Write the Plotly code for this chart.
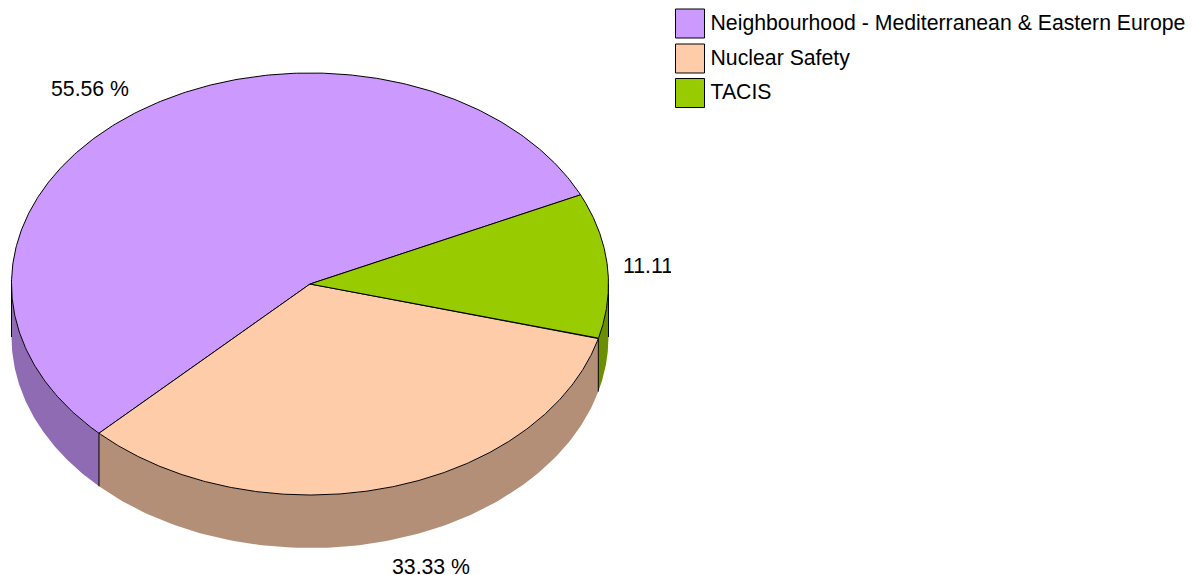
import numpy as np
import plotly.graph_objects as go

# Data
categories = ["Neighbourhood - Mediterranean & Eastern Europe", "Nuclear Safety", "TACIS"]
values = [55.56, 33.33, 11.11]
value_labels = ["55.56 %", "33.33 %", "11.11 %"]
colors = ["#CC99FF", "#FFCCAA", "#99CC00"]
wall_colors = ["#8F6BB3", "#B38F77", "#6B8F00"]

# Layout constants (pixels)
W, H = 1192, 575
CLIP_X = 671
CX, CY, RX, RY, DEPTH = 310, 284, 298.5, 211, 53
START_ANGLE = 25
LABEL_X = [51, 392, 623]
LABEL_Y = [90.5, 568.5, 267.5]
LEG_BOX_X = 690 - CLIP_X
LEG_TEXT_X = 710.5 - CLIP_X
LEG_Y = [23.5, 58.5, 93]
LEG_TEXT_Y = [24.5, 59.5, 93.5]
FONT = "Liberation Sans, Arial, sans-serif"
FS = 21.25


def ell(a, dy=0.0):
    r = np.radians(a)
    return CX + RX * np.cos(r), CY - RY * np.sin(r) + dy


total = sum(values)
edges = [START_ANGLE]
for v in values:
    edges.append(edges[-1] + v / total * 360)

fig = go.Figure()

# Side walls: only the front half (180..360 deg, modulo 360) is visible
vertical_at = set()
for i in range(len(values)):
    a0, a1 = edges[i], edges[i + 1]
    for lo, hi in ((180, 360), (540, 720)):
        s, e = max(a0, lo), min(a1, hi)
        if e > s:
            t = np.linspace(s, e, 120)
            x1, y1 = ell(t)
            x2, y2 = ell(t[::-1], DEPTH)
            fig.add_trace(go.Scatter(
                x=np.r_[x1, x2], y=np.r_[y1, y2], fill="toself", mode="lines",
                fillcolor=wall_colors[i], line=dict(width=0), hoverinfo="skip",
                showlegend=False))
            vertical_at.update([s, e])

for a in sorted(vertical_at):
    x, y = ell(a)
    _, yb = ell(a, DEPTH)
    fig.add_trace(go.Scatter(
        x=[x, x], y=[y, yb], mode="lines", line=dict(color="black", width=1),
        hoverinfo="skip", showlegend=False))

# Top disc
for i, name in enumerate(categories):
    t = np.linspace(edges[i], edges[i + 1], 300)
    x, y = ell(t)
    fig.add_trace(go.Scatter(
        x=np.r_[CX, x, CX], y=np.r_[CY, y, CY], fill="toself", mode="lines",
        fillcolor=colors[i], line=dict(color="black", width=1),
        name=name, hoverinfo="name", showlegend=False))

# Value labels (clipped by the plot area, as in the reference)
fig.add_trace(go.Scatter(
    x=LABEL_X, y=LABEL_Y, text=value_labels, mode="text", textposition="middle right",
    textfont=dict(family=FONT, size=FS, color="black"), cliponaxis=True,
    hoverinfo="skip", showlegend=False))

# Legend
fig.add_trace(go.Scatter(
    x=[LEG_BOX_X] * 3, y=LEG_Y, mode="markers",
    marker=dict(symbol="square", size=29, color=colors, line=dict(color="black", width=1)),
    xaxis="x2", yaxis="y", cliponaxis=False, hoverinfo="skip", showlegend=False))
fig.add_trace(go.Scatter(
    x=[LEG_TEXT_X] * 3, y=LEG_TEXT_Y, mode="text", text=categories,
    textposition="middle right",
    textfont=dict(family=FONT, size=FS, color="black"),
    xaxis="x2", yaxis="y", cliponaxis=False, hoverinfo="skip", showlegend=False))

axis_off = dict(visible=False, showgrid=False, zeroline=False, fixedrange=True)
fig.update_layout(
    width=W, height=H, margin=dict(l=0, r=0, t=0, b=0, pad=0),
    paper_bgcolor="white", plot_bgcolor="rgba(0,0,0,0)", showlegend=False,
    xaxis=dict(domain=[0, CLIP_X / W], range=[0, CLIP_X], **axis_off),
    xaxis2=dict(domain=[CLIP_X / W, 1], range=[0, W - CLIP_X], anchor="y", **axis_off),
    yaxis=dict(domain=[0, 1], range=[H, 0], **axis_off),
)

fig.write_html("out.html", config={"displayModeBar": False},
               post_script="document.body.style.margin='0';document.documentElement.style.overflow='hidden';")
